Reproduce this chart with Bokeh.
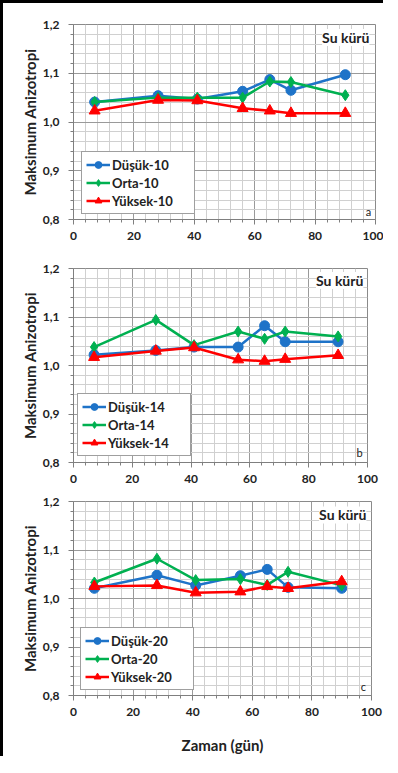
from bokeh.plotting import figure
from bokeh.models import (Label, FixedTicker, CustomJSTickFormatter, Range1d, Title)
from bokeh.layouts import column
from bokeh.embed import file_html
from bokeh.resources import INLINE

# ---- data ----
days = [7, 28, 41, 56, 65, 72, 90]

dusuk_10 = [1.041, 1.054, 1.047, 1.063, 1.087, 1.065, 1.097]
orta_10 = [1.041, 1.050, 1.050, 1.050, 1.083, 1.082, 1.055]
yuksek_10 = [1.023, 1.045, 1.044, 1.028, 1.023, 1.018, 1.018]

dusuk_14 = [1.022, 1.031, 1.038, 1.038, 1.082, 1.049, 1.049]
orta_14 = [1.038, 1.094, 1.042, 1.070, 1.055, 1.070, 1.060]
yuksek_14 = [1.017, 1.030, 1.037, 1.012, 1.009, 1.013, 1.021]

dusuk_20 = [1.021, 1.048, 1.027, 1.047, 1.060, 1.023, 1.021]
orta_20 = [1.033, 1.082, 1.038, 1.040, 1.028, 1.055, 1.027]
yuksek_20 = [1.025, 1.027, 1.012, 1.014, 1.025, 1.021, 1.035]

x_ticks = [0, 20, 40, 60, 80, 100]
x_minor = [4, 8, 12, 16, 24, 28, 32, 36, 44, 48, 52, 56, 64, 68, 72, 76, 84, 88, 92, 96]
y_ticks = [0.8, 0.9, 1.0, 1.1, 1.2]
y_minor = [0.82, 0.84, 0.86, 0.88, 0.92, 0.94, 0.96, 0.98, 1.02, 1.04, 1.06, 1.08,
           1.12, 1.14, 1.16, 1.18]

series_names = ["Düşük", "Orta", "Yüksek"]
y_label = "Maksimum Anizotropi"
x_label = "Zaman (gün)"
note = "Su kürü"

BLUE = "#1E73C8"
GREEN = "#00B050"
RED = "#FF0000"
FONT = "Lato"


def panel(tag, suffix, d, o, yk, left, fw, right, top, fh, bottom,
          leg_loc, ylab_offset, note_xy, tag_xy, show_xlabel=False):
    p = figure(frame_width=fw, frame_height=fh,
               min_border_left=left, min_border_right=right,
               min_border_top=top, min_border_bottom=bottom,
               x_range=Range1d(0, 100), y_range=Range1d(0.8, 1.2),
               output_backend="svg", toolbar_location=None,
               background_fill_color="white", border_fill_color="white")
    p.outline_line_color = "#8a8a8a"
    p.outline_line_width = 1

    p.xaxis.ticker = FixedTicker(ticks=x_ticks, minor_ticks=x_minor)
    p.yaxis.ticker = FixedTicker(ticks=y_ticks, minor_ticks=y_minor)
    p.yaxis.formatter = CustomJSTickFormatter(
        code="return tick.toFixed(1).replace('.', ',');")

    for ax in (p.xaxis[0], p.yaxis[0]):
        ax.axis_line_color = "#7f7f7f"
        ax.major_tick_line_color = "#7f7f7f"
        ax.minor_tick_line_color = "#7f7f7f"
        ax.major_tick_out = 5
        ax.major_tick_in = 0
        ax.minor_tick_out = 3
        ax.minor_tick_in = 0
        ax.major_label_text_font = FONT
        ax.major_label_text_font_style = "bold"
        ax.major_label_text_font_size = "12px"
        ax.major_label_text_color = "#222222"
    p.xaxis.major_label_standoff = 7
    p.yaxis.major_label_standoff = 9

    if show_xlabel:
        p.xaxis.axis_label = x_label
        p.xaxis.axis_label_text_font = FONT
        p.xaxis.axis_label_text_font_style = "bold"
        p.xaxis.axis_label_text_font_size = "15px"
        p.xaxis.axis_label_text_color = "#222222"
        p.xaxis.axis_label_standoff = 17

    p.xgrid.grid_line_color = "#9a9a9a"
    p.ygrid.grid_line_color = "#9a9a9a"
    p.xgrid.minor_grid_line_color = "#d0d0d0"
    p.ygrid.minor_grid_line_color = "#d0d0d0"

    specs = [(d, BLUE, "circle", 10), (o, GREEN, "diamond", 11), (yk, RED, "triangle", 11)]
    for name, (vals, col, mk, sz) in zip(series_names, specs):
        lab = f"{name}-{suffix}"
        p.line(days, vals, line_color=col, line_width=2.5, legend_label=lab)
        p.scatter(days, vals, marker=mk, size=sz, fill_color=col,
                  line_color=col, legend_label=lab)

    lg = p.legend[0]
    lg.location = leg_loc
    lg.border_line_color = "#404040"
    lg.border_line_width = 1
    lg.background_fill_color = "white"
    lg.background_fill_alpha = 1.0
    lg.label_text_font = FONT
    lg.label_text_font_style = "bold"
    lg.label_text_font_size = "13px"
    lg.label_text_color = "#222222"
    lg.glyph_width = 24
    lg.glyph_height = 17
    lg.label_height = 17
    lg.label_width = 78
    lg.label_standoff = 2
    lg.spacing = 1
    lg.padding = 4
    lg.margin = 0

    t = Title(text=y_label, align="center", offset=ylab_offset, standoff=2,
              text_font=FONT, text_font_style="bold", text_font_size="15px",
              text_color="#222222")
    p.add_layout(t, "left")
    p.add_layout(Label(x=note_xy[0], y=note_xy[1], text=note, text_align="right",
                       text_baseline="middle", text_font=FONT, text_font_style="bold",
                       text_font_size="14px", text_color="#222222",
                       background_fill_color="white", background_fill_alpha=1.0))
    p.add_layout(Label(x=tag_xy[0], y=tag_xy[1], text=tag, text_align="center",
                       text_baseline="middle", text_font=FONT, text_font_size="11px",
                       text_color="#222222"))
    return p


pa = panel("a", "10", dusuk_10, orta_10, yuksek_10,
           61, 302, 17, 21, 195, 27, (8, 5),
           19, (98.0, 1.1735), (97.7, 0.8163))
pb = panel("b", "14", dusuk_14, orta_14, yuksek_14,
           70, 294, 16, 22, 194, 25, (4, 6),
           18, (98.6, 1.1754), (97.3, 0.8205))
pc = panel("c", "20", dusuk_20, orta_20, yuksek_20,
           67, 298, 15, 14, 194, 50, (7, 5),
           4, (98.3, 1.1723), (97.3, 0.8185), show_xlabel=True)

layout = column(pa, pb, pc, spacing=0,
                styles={"border-left": "3px solid black", "border-top": "3px solid black"})

open("out.html", "w").write(file_html(layout, INLINE))
